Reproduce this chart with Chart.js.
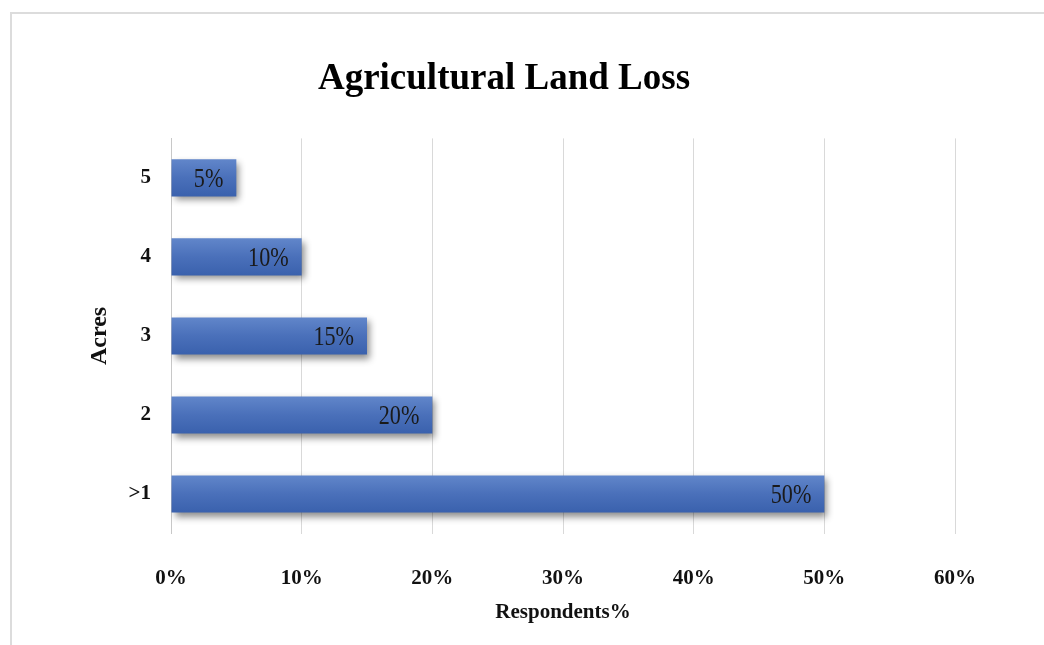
<!DOCTYPE html>
<html>
<head>
<meta charset="utf-8">
<script src="https://cdn.jsdelivr.net/npm/chart.js@4/dist/chart.umd.min.js"></script>
<style>
  html, body { margin: 0; padding: 0; background: #fff; overflow: hidden; }
  #frame {
    position: absolute; left: 10px; top: 12px;
    width: 1100px; height: 700px;
    border: 2px solid #dcdcdc; box-sizing: border-box;
  }
  #wrap { position: absolute; left: 0; top: 0; width: 1044px; height: 645px; }
</style>
</head>
<body>
<div id="frame"></div>
<div id="wrap"><canvas id="landLoss" width="1044" height="645"></canvas></div>
<script>
// acres lost vs share of respondents
const acres = ['>1', '2', '3', '4', '5']
const respondents = [50, 20, 15, 10, 5]
const xTicks = [0, 10, 20, 30, 40, 50, 60]

const serif = "'Liberation Serif', 'Times New Roman', serif"

// blue gradient + drop shadow on each bar
const barStyle = {
  id: 'barStyle',
  beforeDatasetsDraw(chart) {
    const ctx = chart.ctx
    chart.getDatasetMeta(0).data.forEach((bar) => {
      const top = bar.y - bar.height / 2
      const g = ctx.createLinearGradient(0, top, 0, top + bar.height)
      g.addColorStop(0, '#6186ca')
      g.addColorStop(0.5, '#4a70ba')
      g.addColorStop(1, '#3a61ad')
      bar.options.backgroundColor = g
    })
    ctx.save()
    ctx.shadowColor = 'rgba(0,0,0,0.45)'
    ctx.shadowBlur = 7
    ctx.shadowOffsetX = 3
    ctx.shadowOffsetY = 4
  },
  afterDatasetsDraw(chart) {
    const ctx = chart.ctx
    ctx.restore()
    // value labels, right-aligned inside the bar end
    const values = chart.data.datasets[0].data
    ctx.save()
    ctx.fillStyle = '#1a1a1a'
    ctx.font = `27px ${serif}`
    ctx.textAlign = 'right'
    ctx.textBaseline = 'middle'
    chart.getDatasetMeta(0).data.forEach((bar, i) => {
      ctx.save()
      ctx.translate(bar.x - 13, bar.y + 2)
      ctx.scale(0.82, 1)
      ctx.fillText(values[i] + '%', 0, 0)
      ctx.restore()
    })
    ctx.restore()
  },
}

new Chart(document.getElementById('landLoss'), {
  type: 'bar',
  data: {
    labels: acres,
    datasets: [
      {
        data: respondents,
        // scriptable so each bar keeps its own options object
        backgroundColor: () => '#4a70ba',
        borderWidth: 0,
        categoryPercentage: 1,
        barPercentage: 0.47,
      },
    ],
  },
  options: {
    indexAxis: 'y',
    responsive: false,
    animation: false,
    devicePixelRatio: 1,
    layout: { padding: { left: 53, right: 89, top: 0, bottom: 0 } },
    scales: {
      x: {
        min: 0,
        max: 60,
        afterBuildTicks: (scale) => {
          scale.ticks = xTicks.map((v) => ({ value: v }))
        },
        afterFit: (scale) => {
          scale.height = 111.5
        },
        grid: { color: '#d9d9d9', lineWidth: 1, drawTicks: false },
        border: { display: false },
        ticks: {
          padding: 32,
          color: '#111',
          font: { family: serif, size: 21, weight: 'bold' },
          callback: (v) => v + '%',
        },
        title: {
          display: true,
          text: 'Respondents%',
          color: '#111',
          font: { family: serif, size: 21, weight: 'bold' },
          padding: { top: 0, bottom: 20 },
        },
      },
      y: {
        reverse: true,
        afterFit: (scale) => {
          scale.width = 118
        },
        grid: { display: false, drawTicks: false },
        border: { display: true, color: '#c8c8c8', width: 1 },
        ticks: {
          padding: 20,
          color: '#111',
          font: { family: serif, size: 21, weight: 'bold' },
        },
        title: {
          display: true,
          text: 'Acres',
          color: '#111',
          font: { family: serif, size: 24, weight: 'bold' },
          padding: { top: 32, bottom: 0 },
        },
      },
    },
    plugins: {
      legend: { display: false },
      tooltip: { enabled: false },
      title: {
        display: true,
        text: 'Agricultural Land Loss',
        color: '#000',
        font: { family: serif, size: 37, weight: 'bold' },
        padding: { top: 57, bottom: 37 },
      },
    },
  },
  plugins: [barStyle],
})
</script>
</body>
</html>
